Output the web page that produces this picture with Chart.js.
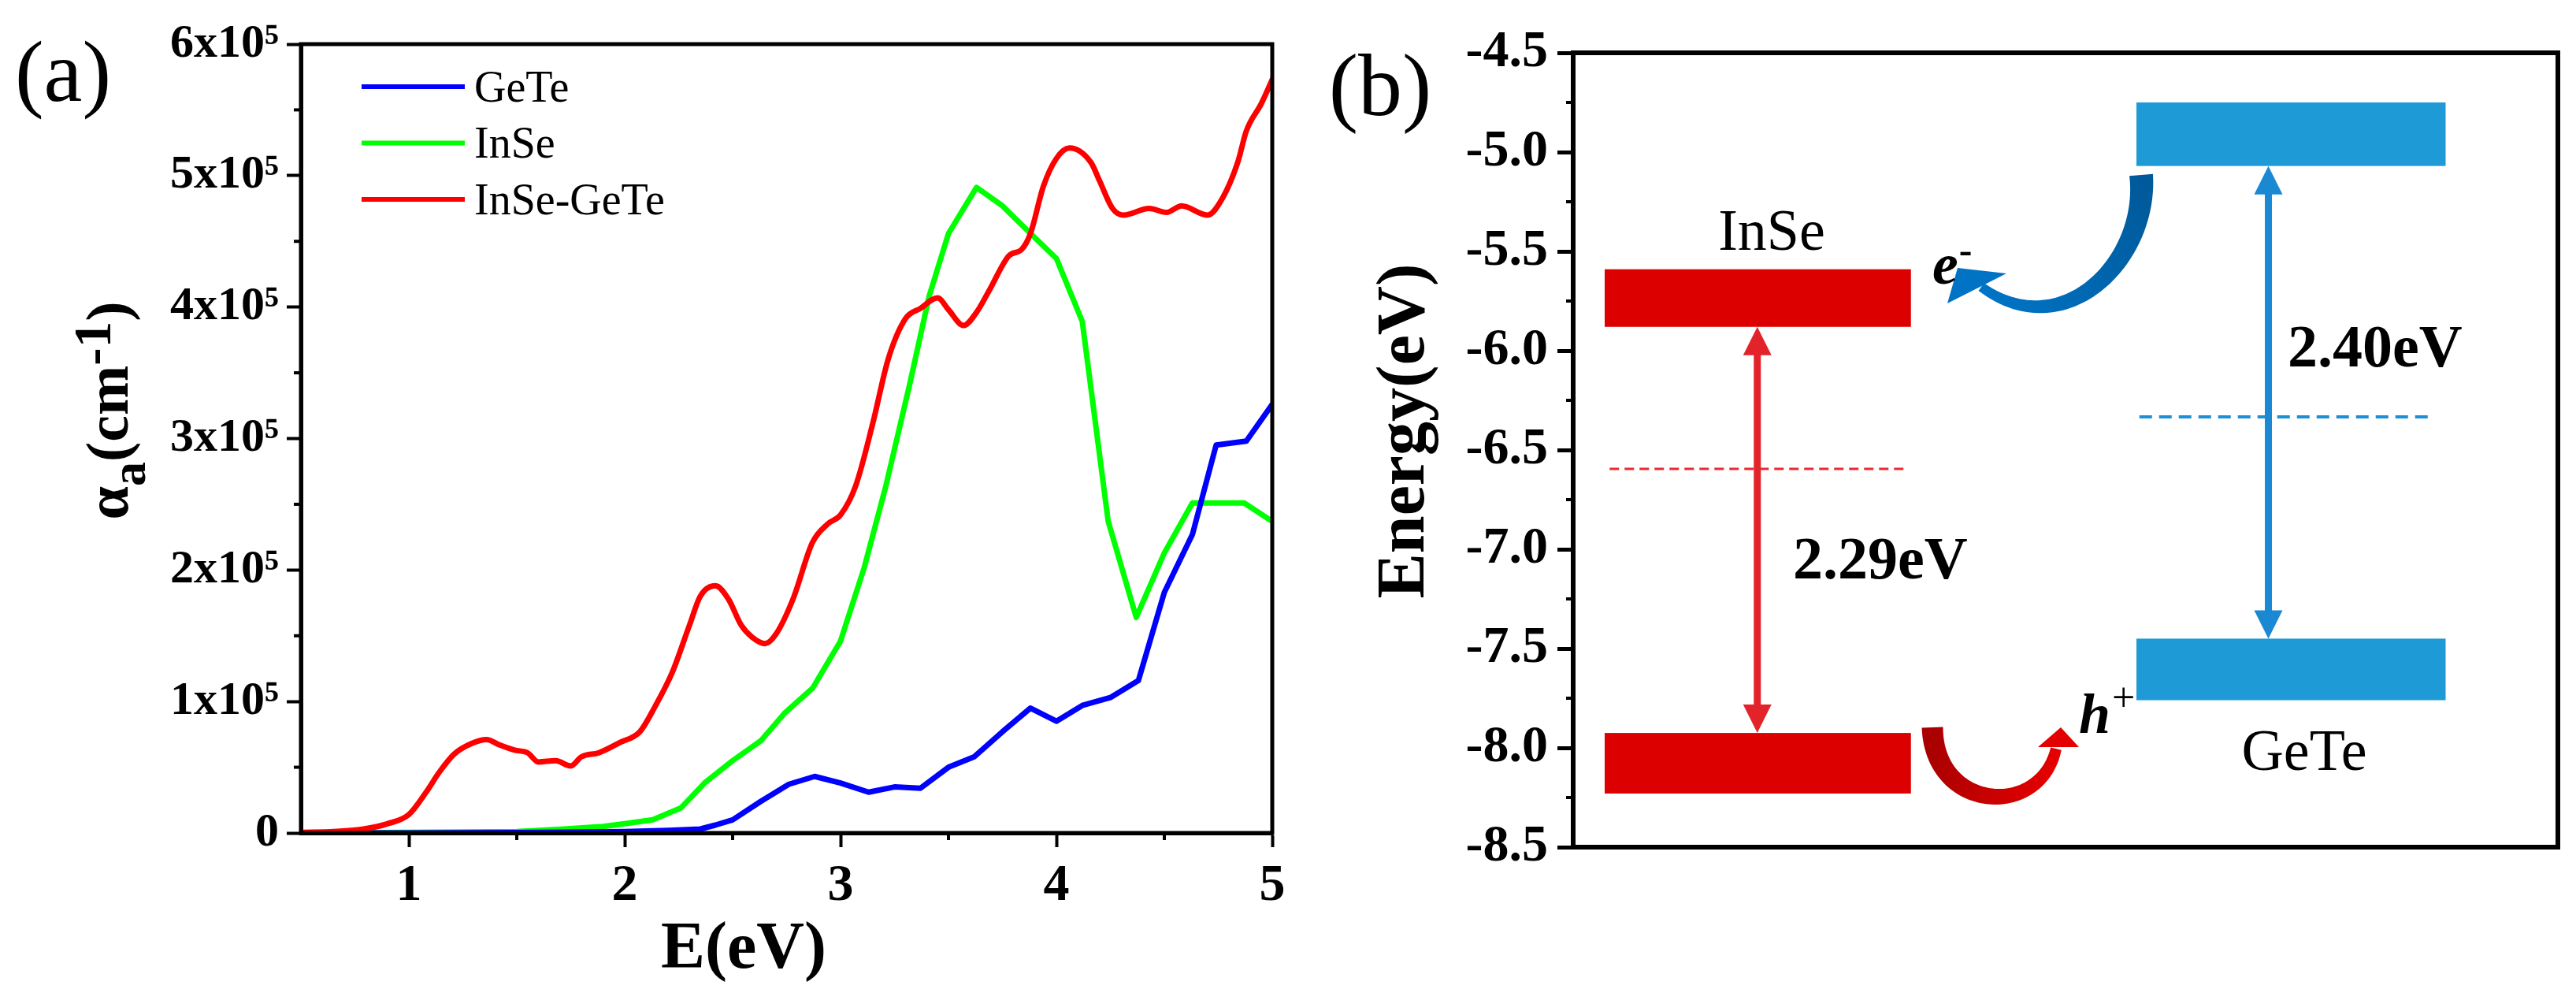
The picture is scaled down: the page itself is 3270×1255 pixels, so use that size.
<!DOCTYPE html>
<html>
<head>
<meta charset="utf-8">
<script src="https://cdn.jsdelivr.net/npm/chart.js@4.4.0/dist/chart.umd.min.js"></script>
<style>
  html, body { margin: 0; padding: 0; background: #fff; }
  #wrap { position: relative; width: 3270px; height: 1255px; }
  #boxA { position: absolute; left: 0; top: 0; width: 1660px; height: 1255px; }
  #boxB { position: absolute; left: 1660px; top: 0; width: 1610px; height: 1255px; }
</style>
</head>
<body>
<div id="wrap">
  <div id="boxA"><canvas id="chartA"></canvas></div>
  <div id="boxB"><canvas id="chartB"></canvas></div>
</div>
<script>
// ============ PANEL (a): absorption coefficient vs photon energy ============
const SERIF = "'Liberation Serif', 'Times New Roman', serif";
Chart.defaults.font.family = SERIF;

const seriesNames = ['GeTe', 'InSe', 'InSe-GeTe'];

const energyGeTe = [0.5, 1.0, 1.5, 2.0, 2.2, 2.35, 2.42, 2.5, 2.63, 2.76, 2.88, 3.0, 3.13, 3.25, 3.37,
    3.5, 3.62, 3.75, 3.88, 4.0, 4.12, 4.25, 4.38, 4.5, 4.63, 4.74, 4.88, 5.0];
const alphaGeTe = [0, 0, 300, 1000, 2000, 3000, 6000, 10000, 24000, 37000, 43000, 38000, 31000, 35000, 34000,
    50000, 58000, 77000, 95000, 85000, 97000, 103000, 116000, 183000, 227000, 295000, 298000, 326000];

const energyInSe = [0.5, 1.0, 1.5, 1.72, 1.9, 2.0, 2.13, 2.26, 2.37, 2.5, 2.63, 2.74, 2.87, 3.0, 3.11,
    3.21, 3.32, 3.41, 3.5, 3.63, 3.75, 3.88, 4.0, 4.12, 4.24, 4.37, 4.5, 4.63, 4.87, 5.0];
const alphaInSe = [0, 500, 1000, 3000, 5000, 7000, 10000, 19000, 38000, 55000, 70000, 91000, 110000, 146000, 202000,
    264000, 341000, 408000, 456000, 491000, 477000, 456000, 437000, 389000, 237000, 164000, 213000, 251000, 251000, 237000];

const energyHetero = [0.5, 0.65, 0.79, 0.9, 1.0, 1.08, 1.14, 1.21, 1.29, 1.36, 1.42, 1.49, 1.55, 1.6, 1.68,
    1.75, 1.8, 1.88, 1.98, 2.07, 2.14, 2.22, 2.3, 2.35, 2.42, 2.48, 2.54, 2.59, 2.65, 2.7,
    2.78, 2.87, 2.94, 3.0, 3.07, 3.15, 3.22, 3.3, 3.37, 3.45, 3.5, 3.57, 3.63, 3.69, 3.78,
    3.84, 3.88, 3.94, 4.0, 4.06, 4.16, 4.2, 4.26, 4.31, 4.43, 4.51, 4.58, 4.7, 4.77, 4.84,
    4.88, 4.95, 5.0];
const alphaHetero = [500, 1000, 3000, 7000, 14000, 31000, 46000, 60000, 68000, 71000, 67000, 63000, 61000, 54000, 55000,
    51000, 58000, 61000, 69000, 77000, 96000, 122000, 158000, 180000, 188000, 178000, 158000, 149000, 144000, 151000,
    178000, 221000, 235000, 242000, 264000, 312000, 360000, 391000, 399000, 407000, 398000, 386000, 396000, 413000, 439000,
    444000, 456000, 492000, 513000, 521000, 510000, 496000, 475000, 470000, 475000, 472000, 477000, 470000, 483000, 510000,
    534000, 555000, 573000];

const xTicksA = [1, 2, 3, 4, 5];
const yTicksA = [0, 100000, 200000, 300000, 400000, 500000, 600000];

// ============ PANEL (b): band alignment ============
const materials = ['InSe', 'GeTe'];
const cbTop = [-5.59, -4.75];
const cbBottom = [-5.88, -5.07];
const vbTop = [-7.925, -7.45];
const vbBottom = [-8.23, -7.76];
const fermiLevel = [-6.595, -6.333];
const gapLabels = ['2.29eV', '2.40eV'];
const yTicksB = [-8.5, -8.0, -7.5, -7.0, -6.5, -6.0, -5.5, -5.0, -4.5];

const toPoints = (xs, ys) => xs.map((x, i) => ({ x, y: ys[i] }));
const mids = arr => arr.slice(0, -1).map((v, i) => (v + arr[i + 1]) / 2);

function seg(ctx, x1, y1, x2, y2) {
    ctx.beginPath(); ctx.moveTo(x1, y1); ctx.lineTo(x2, y2); ctx.stroke();
}

// Closes the plot box on top and right, like the original Origin frame.
const frame = {
    id: 'frame',
    afterDraw(chart, args, opts) {
        const { ctx, chartArea: a } = chart;
        ctx.save();
        ctx.strokeStyle = '#000';
        ctx.lineWidth = opts.width;
        ctx.strokeRect(a.left, a.top, a.right - a.left, a.bottom - a.top);
        ctx.restore();
    }
};

// Short minor ticks halfway between the major ones.
const minorTicks = {
    id: 'minorTicks',
    afterDraw(chart, args, opts) {
        const { ctx, chartArea: a, scales } = chart;
        ctx.save();
        ctx.strokeStyle = '#000';
        ctx.lineWidth = opts.width;
        (opts.x || []).forEach(v => {
            const px = scales.x.getPixelForValue(v);
            seg(ctx, px, a.bottom, px, a.bottom + opts.len);
        });
        (opts.y || []).forEach(v => {
            const py = scales.y.getPixelForValue(v);
            seg(ctx, a.left - opts.len, py, a.left, py);
        });
        ctx.restore();
    }
};

// Free text pieces (axis titles, panel letters); runs carry size/offset for sub- and superscripts.
const texts = {
    id: 'texts',
    afterDraw(chart, args, opts) {
        const ctx = chart.ctx;
        opts.items.forEach(it => {
            ctx.save();
            ctx.translate(it.x, it.y);
            if (it.rotate) ctx.rotate(it.rotate);
            ctx.fillStyle = '#000';
            ctx.textBaseline = 'alphabetic';
            const runs = it.runs || [{ t: it.text, s: 1, dy: 0 }];
            const fontOf = r => `${it.style || 'normal'} ${it.weight || 'normal'} ${Math.round(it.size * r.s)}px ${SERIF}`;
            let total = 0;
            runs.forEach(r => { ctx.font = fontOf(r); r.w = ctx.measureText(r.t).width; total += r.w; });
            let cx = it.align === 'left' ? 0 : -total / 2;
            runs.forEach(r => {
                ctx.font = fontOf(r);
                ctx.textAlign = 'left';
                ctx.fillText(r.t, cx, r.dy);
                cx += r.w;
            });
            ctx.restore();
        });
    }
};

const insideLegend = {
    id: 'insideLegend',
    afterDraw(chart, args, opts) {
        const { ctx, chartArea: a } = chart;
        ctx.save();
        ctx.font = `${opts.size}px ${SERIF}`;
        ctx.textBaseline = 'middle';
        ctx.fillStyle = '#000';
        chart.data.datasets.forEach((ds, i) => {
            const y = a.top + opts.top + i * opts.gap;
            ctx.strokeStyle = ds.borderColor;
            ctx.lineWidth = opts.lineWidth;
            seg(ctx, a.left + opts.x0, y, a.left + opts.x1, y);
            ctx.fillText(ds.label, a.left + opts.textX, y + 4);
        });
        ctx.restore();
    }
};

new Chart(document.getElementById('chartA'), {
    type: 'line',
    data: {
        datasets: [
            { label: seriesNames[0], data: toPoints(energyGeTe, alphaGeTe), borderColor: '#0000ff', borderWidth: 7, order: 1 },
            { label: seriesNames[1], data: toPoints(energyInSe, alphaInSe), borderColor: '#00ff00', borderWidth: 7, order: 2 },
            { label: seriesNames[2], data: toPoints(energyHetero, alphaHetero), borderColor: '#ff0000', borderWidth: 7,
              cubicInterpolationMode: 'monotone', order: 0 }
        ]
    },
    options: {
        responsive: true,
        maintainAspectRatio: false,
        animation: false,
        elements: { point: { radius: 0 }, line: { tension: 0, borderJoinStyle: 'round', borderCapStyle: 'round' } },
        layout: { padding: { top: 56, right: 45, left: 0, bottom: 0 } },
        plugins: {
            legend: { display: false },
            tooltip: { enabled: false },
            frame: { width: 5 },
            minorTicks: { x: mids(xTicksA), y: mids(yTicksA), len: 9, width: 4 },
            insideLegend: { top: 54, gap: 71.5, x0: 77, x1: 208, textX: 220, size: 56, lineWidth: 6 },
            texts: {
                items: [
                    { text: '(a)', x: 80, y: 128, size: 110 },
                    { text: 'E(eV)', x: 944, y: 1228, size: 84, weight: 'bold' },
                    { x: 162, y: 521, size: 76, weight: 'bold', rotate: -Math.PI / 2,
                      runs: [{ t: 'α', s: 1, dy: 0 }, { t: 'a', s: 0.82, dy: 22 }, { t: '(cm', s: 1, dy: 0 },
                             { t: '-1', s: 0.88, dy: -22 }, { t: ')', s: 1, dy: 0 }] }
                ]
            }
        },
        scales: {
            x: {
                type: 'linear', min: 0.5, max: 5,
                afterBuildTicks: s => { s.ticks = xTicksA.map(v => ({ value: v })); },
                afterFit: s => { s.height = 198; },
                grid: { drawOnChartArea: false, drawTicks: true, tickLength: 18, tickWidth: 4, tickColor: '#000' },
                border: { display: true, width: 5, color: '#000' },
                ticks: { color: '#000', padding: 10, maxRotation: 0, autoSkip: false,
                         font: { family: SERIF, size: 66, weight: 'bold' } }
            },
            y: {
                type: 'linear', min: 0, max: 600000,
                afterBuildTicks: s => { s.ticks = yTicksA.map(v => ({ value: v })); },
                afterFit: s => { s.width = 382; },
                grid: { drawOnChartArea: false, drawTicks: true, tickLength: 18, tickWidth: 4, tickColor: '#000' },
                border: { display: true, width: 5, color: '#000' },
                ticks: { color: '#000', padding: 10,
                         callback: v => v === 0 ? '0' : (v / 100000) + 'x10\u2075',
                         font: { family: SERIF, size: 60, weight: 'bold' } }
            }
        }
    },
    plugins: [frame, minorTicks, insideLegend, texts]
});

// ============ PANEL (b) drawing ============
// Horizontal layout of the schematic (x in arbitrary 0..10 units of the hidden axis).
const bandLayout = {
    span: [[0.32, 3.43], [5.72, 8.86]],
    dash: [[0.37, 3.37], [5.75, 8.75]],
    arrowX: [1.87, 7.06],
    bandColor: ['#dd0000', '#1e9bd7'],
    arrowColor: ['#e2242a', '#1a88d2'],
    dashColor: ['#ea2a30', '#1c8fd6'],
    nameAt: [[2.016, -5.492], [7.424, -8.111]],
    gapAt: [[2.232, -7.147], [7.256, -6.079]]
};
// Curved transfer arrows: cubic path + arrow head, in data units.
const electronPath = { p: [[5.768, -5.115], [5.848, -5.544], [4.984, -5.98], [4.144, -5.679]],
    head: [[3.904, -5.583], [4.40, -5.611], [3.80, -5.762]], w: [30, 12], c: ['#00599a', '#0073c4'] };
const holePath = { p: [[3.648, -7.897], [3.664, -8.321], [4.744, -8.361], [4.904, -8.004]],
    head: [[4.952, -7.897], [4.72, -7.996], [5.136, -7.996]], w: [27, 14], c: ['#a80000', '#e40000'] };

function doubleArrow(ctx, px, yA, yB, lw, hl, hw) {
    ctx.lineWidth = lw;
    seg(ctx, px, yA + hl * 0.8, px, yB - hl * 0.8);
    ctx.beginPath(); ctx.moveTo(px, yA); ctx.lineTo(px - hw, yA + hl); ctx.lineTo(px + hw, yA + hl); ctx.closePath(); ctx.fill();
    ctx.beginPath(); ctx.moveTo(px, yB); ctx.lineTo(px - hw, yB - hl); ctx.lineTo(px + hw, yB - hl); ctx.closePath(); ctx.fill();
}

function taperedArrow(ctx, X, Y, path) {
    const P = path.p.map(([u, v]) => [X(u), Y(v)]);
    const bez = t => {
        const m = 1 - t;
        return [0, 1].map(k => m * m * m * P[0][k] + 3 * m * m * t * P[1][k] + 3 * m * t * t * P[2][k] + t * t * t * P[3][k]);
    };
    const N = 60, left = [], right = [];
    for (let i = 0; i <= N; i++) {
        const t = i / N;
        const a = bez(Math.max(0, t - 0.01)), b = bez(Math.min(1, t + 0.01)), c = bez(t);
        const dx = b[0] - a[0], dy = b[1] - a[1];
        const len = Math.hypot(dx, dy) || 1;
        const w = (path.w[0] + (path.w[1] - path.w[0]) * t) / 2;
        left.push([c[0] - dy / len * w, c[1] + dx / len * w]);
        right.push([c[0] + dy / len * w, c[1] - dx / len * w]);
    }
    const g = ctx.createLinearGradient(P[0][0], P[0][1], P[3][0], P[3][1]);
    g.addColorStop(0, path.c[0]);
    g.addColorStop(1, path.c[1]);
    ctx.fillStyle = g;
    ctx.beginPath();
    left.forEach(([x, y], i) => i ? ctx.lineTo(x, y) : ctx.moveTo(x, y));
    right.reverse().forEach(([x, y]) => ctx.lineTo(x, y));
    ctx.closePath(); ctx.fill();
    ctx.fillStyle = path.c[1];
    ctx.beginPath();
    path.head.forEach(([u, v], i) => i ? ctx.lineTo(X(u), Y(v)) : ctx.moveTo(X(u), Y(v)));
    ctx.closePath(); ctx.fill();
}

const bandDiagram = {
    id: 'bandDiagram',
    afterDraw(chart) {
        const { ctx, scales: { x, y } } = chart;
        const X = v => x.getPixelForValue(v), Y = v => y.getPixelForValue(v);
        ctx.save();
        materials.forEach((name, i) => {
            const [x0, x1] = bandLayout.span[i];
            ctx.fillStyle = bandLayout.bandColor[i];
            ctx.fillRect(X(x0), Y(cbTop[i]), X(x1) - X(x0), Y(cbBottom[i]) - Y(cbTop[i]));
            ctx.fillRect(X(x0), Y(vbTop[i]), X(x1) - X(x0), Y(vbBottom[i]) - Y(vbTop[i]));

            ctx.strokeStyle = bandLayout.dashColor[i];
            ctx.lineWidth = i === 0 ? 3 : 4;
            ctx.setLineDash(i === 0 ? [12, 7] : [16, 9]);
            const [d0, d1] = bandLayout.dash[i];
            seg(ctx, X(d0), Y(fermiLevel[i]), X(d1), Y(fermiLevel[i]));
            ctx.setLineDash([]);

            ctx.strokeStyle = bandLayout.arrowColor[i];
            ctx.fillStyle = bandLayout.arrowColor[i];
            doubleArrow(ctx, X(bandLayout.arrowX[i]), Y(cbBottom[i]), Y(vbTop[i]), 9, 36, 18);

            ctx.fillStyle = '#000';
            ctx.textBaseline = 'alphabetic';
            ctx.font = `74px ${SERIF}`;
            ctx.textAlign = 'center';
            ctx.fillText(name, X(bandLayout.nameAt[i][0]), Y(bandLayout.nameAt[i][1]));
            ctx.font = `bold 76px ${SERIF}`;
            ctx.textAlign = 'left';
            ctx.fillText(gapLabels[i], X(bandLayout.gapAt[i][0]), Y(bandLayout.gapAt[i][1]));
        });
        taperedArrow(ctx, X, Y, electronPath);
        taperedArrow(ctx, X, Y, holePath);

        // carrier symbols
        ctx.fillStyle = '#000';
        ctx.textAlign = 'left';
        ctx.font = `italic bold 74px ${SERIF}`;
        const ex = X(3.648), ey = Y(-5.661);
        ctx.fillText('e', ex, ey);
        const ew = ctx.measureText('e').width;
        ctx.font = `bold 50px ${SERIF}`;
        ctx.fillText('-', ex + ew + 1, ey - 26);
        ctx.font = `italic bold 72px ${SERIF}`;
        const hx = X(5.136), hy = Y(-7.925);
        ctx.fillText('h', hx, hy);
        const hw = ctx.measureText('h').width;
        ctx.font = `52px ${SERIF}`;
        ctx.fillText('+', hx + hw + 2, hy - 28);
        ctx.restore();
    }
};

new Chart(document.getElementById('chartB'), {
    type: 'scatter',
    data: { datasets: [] },
    options: {
        responsive: true,
        maintainAspectRatio: false,
        animation: false,
        layout: { padding: { top: 67, right: 23, left: 0, bottom: 180 } },
        plugins: {
            legend: { display: false },
            tooltip: { enabled: false },
            frame: { width: 6 },
            minorTicks: { y: mids(yTicksB), len: 9, width: 4 },
            texts: {
                items: [
                    { text: '(b)', x: 92, y: 146, size: 112 },
                    { text: 'Energy(eV)', x: 147, y: 547, size: 86, weight: 'bold', rotate: -Math.PI / 2 }
                ]
            }
        },
        scales: {
            x: { type: 'linear', min: 0, max: 10, display: false },
            y: {
                type: 'linear', min: -8.5, max: -4.5,
                afterBuildTicks: s => { s.ticks = yTicksB.map(v => ({ value: v })); },
                afterFit: s => { s.width = 337; },
                grid: { drawOnChartArea: false, drawTicks: true, tickLength: 20, tickWidth: 5, tickColor: '#000' },
                border: { display: true, width: 6, color: '#000' },
                ticks: { color: '#000', padding: 12, callback: v => Number(v).toFixed(1),
                         font: { family: SERIF, size: 66, weight: 'bold' } }
            }
        }
    },
    plugins: [frame, minorTicks, bandDiagram, texts]
});
</script>
</body>
</html>
